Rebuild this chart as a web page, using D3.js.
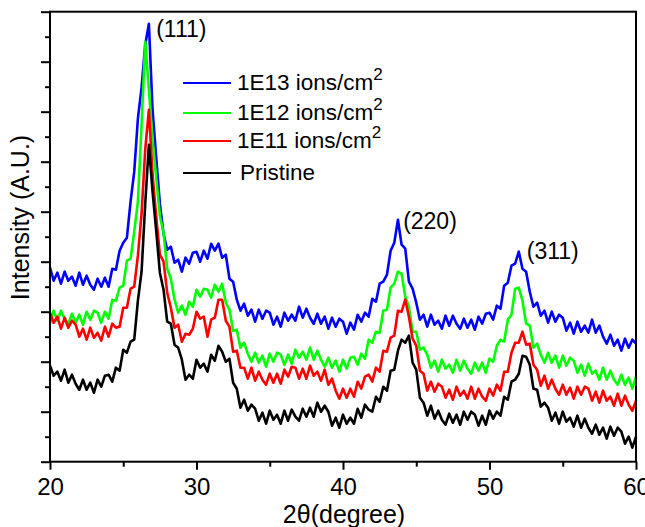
<!DOCTYPE html>
<html>
<head>
<meta charset="utf-8">
<script src="https://cdn.jsdelivr.net/npm/d3@7"></script>
<style>
  html, body { margin: 0; padding: 0; background: #fff; }
  svg { display: block; }
  text { font-family: "Liberation Sans", Arial, sans-serif; fill: #000; }
</style>
</head>
<body>
<div id="chart"></div>
<script>
// ---- Data ----
const angleStart = 20;      // 2θ of first sample (degree)
const angleStep = 0.25;     // sampling step (degree)

const xTickLabels = [20, 30, 40, 50, 60];
const xMinorTicks = [25, 35, 45, 55];

const seriesNames = ["1E13 ions/cm", "1E12 ions/cm", "1E11 ions/cm", "Pristine"];
const seriesSup = ["2", "2", "2", ""];
const seriesColors = ["#0000ff", "#00ff00", "#ff0000", "#000000"];

const peakLabels = ["(111)", "(220)", "(311)"];
const peakAngles = [26.7, 43.9, 52.0];

// intensities (A.U.), one value per sample
const int1E13 = [194,181,189,178,190,181,185,176,189,177,186,177,172,183,175,184,175,193,192,211,
  219,224,260,290,343,374,417,438,352,304,258,228,212,215,199,202,190,204,198,209,
  210,200,211,203,218,211,218,204,207,183,180,162,151,158,146,152,140,152,143,151,
  149,137,145,135,149,141,147,141,155,144,153,144,138,148,138,145,133,144,135,143,
  140,128,139,132,147,140,149,145,163,160,178,180,187,211,219,242,217,213,180,173,
  159,142,147,135,147,137,141,133,146,136,146,138,133,143,134,142,132,145,138,148,
  149,142,156,153,176,179,196,198,210,193,190,170,155,159,146,151,139,150,140,147,
  144,131,139,128,140,130,136,129,142,129,136,125,118,127,116,122,111,123,114,122,118];

const int1E12 = [138,151,141,151,143,138,148,139,147,137,150,142,151,149,139,150,143,162,161,174,
  176,201,203,230,260,337,420,372,322,284,246,229,193,183,162,149,156,147,160,155,
  172,165,173,172,164,177,170,178,159,152,131,132,114,119,108,100,109,99,106,95,
  108,100,109,107,97,107,98,112,104,110,102,114,102,111,102,95,104,94,101,90,
  102,93,104,105,97,108,103,122,119,130,129,151,152,174,178,190,188,165,155,130,
  130,112,114,107,94,101,90,102,93,97,89,102,91,101,93,88,99,91,99,89,
  103,100,116,122,120,142,147,173,174,161,138,136,114,118,107,99,109,99,106,94,
  106,96,104,101,89,97,86,98,88,91,82,94,82,91,82,77,87,77,84,73,85];

const int1E11 = [149,139,145,133,144,134,141,137,125,133,122,134,124,129,121,135,125,138,134,135,
  154,154,173,175,206,248,312,352,287,245,207,200,169,154,134,137,120,128,127,133,
  150,143,145,125,142,144,162,162,141,135,110,111,94,94,83,94,81,90,82,77,
  88,79,88,78,92,85,95,94,83,93,83,96,86,90,81,92,77,83,71,63,
  73,64,73,65,80,73,85,87,80,94,90,111,110,124,126,151,150,162,145,123,
  116,91,88,71,80,70,78,75,64,72,62,75,66,71,63,75,63,73,65,61,
  73,66,77,71,90,90,109,119,119,130,117,118,97,92,76,86,73,82,73,67,
  77,67,74,63,75,67,75,73,61,70,59,71,61,65,56,68,56,66,57,51,61];

const intPristine = [96,86,90,81,92,79,87,78,72,82,72,79,69,82,75,86,87,80,94,91,
  112,109,120,122,161,190,258,317,270,231,189,172,140,138,117,114,102,82,87,83,
  102,94,98,90,107,101,116,110,100,103,79,73,54,62,51,57,53,41,49,38,
  51,42,47,38,51,41,52,45,41,53,45,54,45,59,50,56,50,36,44,34,
  47,38,44,38,53,44,57,52,50,65,60,75,71,91,92,111,122,119,126,99,
  92,64,59,46,56,43,51,42,37,48,39,47,37,50,42,50,47,36,46,37,
  51,43,50,46,65,62,80,82,88,106,105,97,73,72,55,59,54,41,49,38,
  50,40,44,35,46,34,43,34,28,37,27,34,23,35,26,34,30,18,25,14,25];

// drawing order: blue, green, red, black (black on top)
const seriesValues = [int1E13, int1E12, int1E11, intPristine];

// ---- Layout ----
const W = 645, H = 527;
const plot = { left: 50, right: 636, top: 11.7, bottom: 461.7 };

const svg = d3.select("#chart").append("svg")
  .attr("width", W).attr("height", H);

const x = d3.scaleLinear().domain([20, 60]).range([plot.left, plot.right]);
const y = d3.scaleLinear().domain([0, 450]).range([plot.bottom, plot.top]);

// ---- Curves ----
const line = d3.line()
  .x((d, i) => x(angleStart + i * angleStep))
  .y(d => y(d));

svg.append("g").selectAll("path")
  .data(seriesValues)
  .join("path")
  .attr("d", d => line(d))
  .attr("fill", "none")
  .attr("stroke", (d, i) => seriesColors[i])
  .attr("stroke-width", 2.6)
  .attr("stroke-linejoin", "round");

// ---- Axes ----
const xMajor = svg.append("g")
  .attr("transform", `translate(0,${plot.bottom})`)
  .call(d3.axisBottom(x).tickValues(xTickLabels).tickSize(8).tickPadding(8)
        .tickFormat(d3.format("d")));
const xMinor = svg.append("g")
  .attr("transform", `translate(0,${plot.bottom})`)
  .call(d3.axisBottom(x).tickValues(xMinorTicks).tickSize(5).tickFormat(""));

const yMajor = svg.append("g")
  .attr("transform", `translate(${plot.left},0)`)
  .call(d3.axisLeft(y).tickValues(d3.range(0, 451, 50)).tickSize(9).tickFormat(""));
const yMinor = svg.append("g")
  .attr("transform", `translate(${plot.left},0)`)
  .call(d3.axisLeft(y).tickValues(d3.range(25, 450, 50)).tickSize(5).tickFormat(""));

[xMajor, xMinor, yMajor, yMinor].forEach(g => {
  g.select(".domain").remove();
  g.selectAll(".tick line").attr("stroke", "#000").attr("stroke-width", 2);
});
xMajor.selectAll(".tick text")
  .attr("font-size", 24)
  .attr("font-family", "Liberation Sans, Arial, sans-serif")
  .attr("fill", "#000");

// frame
svg.append("rect")
  .attr("x", plot.left).attr("y", plot.top)
  .attr("width", plot.right - plot.left).attr("height", plot.bottom - plot.top)
  .attr("fill", "none").attr("stroke", "#000").attr("stroke-width", 2);

// axis titles
svg.append("text")
  .attr("x", 344).attr("y", 523)
  .attr("text-anchor", "middle").attr("font-size", 25)
  .text("2θ(degree)");

svg.append("text")
  .attr("transform", `translate(29,${(132 + 303) / 2}) rotate(-90)`)
  .attr("text-anchor", "middle").attr("font-size", 25)
  .text("Intensity (A.U.)");

// peak labels
const peakLabelY = [37, 229, 259];
const peakLabelDx = [8, 3, 8];
svg.append("g").selectAll("text")
  .data(peakLabels)
  .join("text")
  .attr("x", (d, i) => x(peakAngles[i]) + peakLabelDx[i])
  .attr("y", (d, i) => peakLabelY[i])
  .attr("font-size", 23)
  .text(d => d);

// legend
const legendY = [83, 113, 141, 173];
const lg = svg.append("g");
seriesNames.forEach((name, i) => {
  lg.append("line")
    .attr("x1", 183).attr("x2", 231)
    .attr("y1", legendY[i]).attr("y2", legendY[i])
    .attr("stroke", seriesColors[i]).attr("stroke-width", 2.2);
  const t = lg.append("text")
    .attr("x", i === 3 ? 240 : 237).attr("y", legendY[i] + 7)
    .attr("font-size", 22.5);
  t.append("tspan").text(name);
  if (seriesSup[i]) {
    t.append("tspan").attr("dy", -10).attr("font-size", 17).text(seriesSup[i]);
  }
});
</script>
</body>
</html>
